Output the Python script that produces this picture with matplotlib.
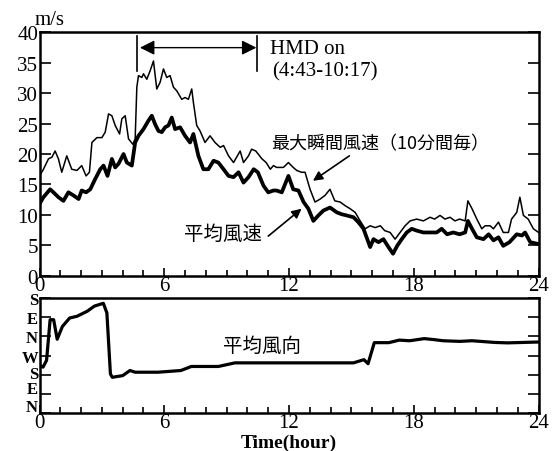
import numpy as np
import matplotlib.pyplot as plt
import matplotlib.transforms as mtransforms
from matplotlib.ticker import MultipleLocator

plt.rcParams['font.family'] = ['Liberation Serif', 'Noto Sans CJK JP']
plt.rcParams['font.size'] = 15

# ---- wind speed data ----
gust_t = [0, 0.19, 0.43, 0.6, 0.75, 0.91, 1.07, 1.31, 1.55, 1.8, 2.03, 2.24, 2.4, 2.52,
          2.76, 3.0, 3.16, 3.32, 3.48, 3.64, 3.85, 3.96, 4.12, 4.28, 4.49, 4.6, 4.68,
          4.76, 4.92, 5.0, 5.16, 5.32, 5.48, 5.64, 5.8, 5.96, 6.12, 6.28, 6.44, 6.6,
          6.84, 7.0, 7.16, 7.32, 7.4, 7.56, 7.72, 7.96, 8.2, 8.44, 8.69, 8.85, 9.09,
          9.33, 9.65, 9.81, 10.05, 10.2, 10.4, 10.7, 10.9, 11.1, 11.25, 11.4, 11.73,
          11.97, 12.2, 12.37, 12.6, 12.77, 13.01, 13.25, 13.5, 13.73, 13.97, 14.2,
          14.46, 14.7, 14.94, 15.18, 15.42, 15.66, 15.9, 16.14, 16.39, 16.6, 16.86,
          17.1, 17.34, 17.58, 17.82, 18.14, 18.46, 18.78, 19.0, 19.26, 19.5, 19.74,
          19.98, 20.2, 20.47, 20.6, 20.8, 21.03, 21.27, 21.43, 21.67, 21.83, 22.07,
          22.3, 22.55, 22.7, 22.95, 23.1, 23.27, 23.5, 23.75, 24.0]
gust_v = [16.4, 17.5, 19.2, 19.5, 20.5, 19.2, 17.0, 19.7, 17.5, 17.3, 18.1, 16.4, 17.0, 21.9,
          22.7, 22.7, 23.6, 26.6, 26.3, 24.7, 23.3, 25.8, 26.3, 22.5, 21.6, 22.5, 31.0,
          32.9, 32.6, 33.2, 32.3, 33.7, 35.3, 30.7, 31.8, 34.0, 32.6, 32.9, 31.0, 30.4,
          29.0, 29.3, 29.0, 30.7, 28.5, 24.7, 23.8, 21.9, 23.0, 21.9, 21.1, 21.4, 19.7,
          18.6, 20.5, 18.6, 19.7, 20.8, 20.5, 19.2, 18.6, 17.5, 18.1, 17.8, 17.8,
          18.6, 17.8, 17.3, 17.0, 17.0, 14.2, 12.1, 12.6, 13.2, 14.2, 12.3,
          12.1, 11.5, 11.0, 10.4, 9.0, 7.7, 8.2, 7.9, 8.2, 7.4, 7.1,
          6.0, 7.1, 8.2, 9.0, 9.3, 9.0, 9.6, 9.3, 9.9, 9.3, 9.6,
          9.0, 9.3, 9.0, 12.3, 11.0, 9.3, 7.7, 8.2, 8.2, 7.7, 8.8,
          7.1, 7.1, 9.3, 10.4, 12.9, 9.9, 9.3, 7.7, 7.1]

mean_t = [0, 0.19, 0.51, 0.67, 0.91, 1.15, 1.39, 1.63, 1.88, 2.03, 2.24, 2.44, 2.68, 2.92,
          3.08, 3.27, 3.48, 3.64, 3.8, 4.04, 4.2, 4.44, 4.6, 4.76, 5.0, 5.24, 5.4, 5.56,
          5.72, 5.88, 6.04, 6.2, 6.36, 6.52, 6.76, 7.0, 7.24, 7.4, 7.64, 7.88, 8.12,
          8.37, 8.6, 8.85, 9.09, 9.33, 9.57, 9.81, 10.05, 10.3, 10.5, 10.77, 11.0,
          11.25, 11.4, 11.65, 11.97, 12.2, 12.45, 12.7, 12.93, 13.17, 13.41, 13.65,
          13.97, 14.3, 14.53, 14.77, 15.1, 15.33, 15.58, 15.9, 16.06, 16.3, 16.54,
          16.78, 17.0, 17.2, 17.42, 17.66, 17.9, 18.14, 18.46, 18.78, 19.1, 19.34,
          19.6, 19.9, 20.2, 20.47, 20.6, 20.8, 21.03, 21.35, 21.6, 21.83, 22.07,
          22.3, 22.6, 22.95, 23.2, 23.35, 23.6, 24.0]
mean_v = [11.8, 12.9, 14.2, 13.7, 12.9, 12.3, 13.7, 13.2, 12.6, 14.0, 13.7, 14.2, 15.9, 17.5,
          18.1, 16.4, 19.2, 17.8, 18.4, 20.0, 18.6, 18.1, 21.9, 23.0, 24.1, 25.5, 26.3, 24.9,
          23.8, 23.6, 24.4, 24.7, 26.0, 24.1, 24.4, 23.0, 21.9, 23.3, 19.7, 17.5, 17.5,
          18.9, 18.6, 17.5, 16.4, 16.2, 17.0, 15.3, 16.2, 17.5, 17.0, 14.8, 13.7,
          14.0, 14.0, 13.7, 16.4, 14.2, 14.0, 12.1, 11.0, 9.0, 9.9, 10.7,
          11.2, 10.4, 10.1, 9.9, 9.6, 8.8, 7.7, 4.7, 6.0, 5.5, 6.0,
          4.7, 3.6, 4.9, 6.0, 7.1, 7.7, 7.4, 7.1, 7.1, 7.1, 7.7,
          6.8, 7.1, 6.8, 7.1, 9.0, 7.7, 6.3, 6.0, 6.8, 5.8, 6.3,
          4.9, 5.5, 6.8, 6.6, 7.1, 5.5, 5.2]

# ---- wind direction (deg, N=0 at bottom, cumulative up to S=540) ----
dir_t = [0, 0.17, 0.34, 0.51, 0.68, 0.85, 1.1, 1.45, 1.8, 2.3, 2.64, 3.07, 3.24, 3.41,
         3.5, 4.0, 4.35, 4.6, 5.7, 6.8, 7.3, 8.6, 9.4, 15.1, 15.6, 15.8, 16.1, 16.8,
         17.3, 17.8, 18.5, 19.0, 19.4, 20.2, 20.8, 21.9, 22.5, 24.0]
dir_v = [224, 216, 248, 439, 439, 347, 407, 447, 455, 479, 503, 516, 471, 184,
         168, 176, 200, 192, 192, 200, 219, 219, 236, 236, 251, 232, 331, 331,
         343, 340, 350, 345, 340, 337, 340, 332, 330, 334]
dir_ticks = [0, 90, 180, 270, 360, 450, 540]
dir_labels = ['N', 'E', 'S', 'W', 'N', 'E', 'S']

hmd_start, hmd_end = 4.68, 10.48

fig = plt.figure(figsize=(5.58, 4.52), dpi=100)
ax1 = fig.add_axes([0.0708, 0.388, 0.8944, 0.538])
ax2 = fig.add_axes([0.0708, 0.084, 0.8944, 0.254])

for ax in (ax1, ax2):
    for sp in ax.spines.values():
        sp.set_linewidth(1.8)
    ax.set_xlim(0, 24)
    ax.xaxis.set_major_locator(MultipleLocator(6))
    ax.xaxis.set_minor_locator(MultipleLocator(1))
    ax.tick_params(axis='x', which='major', direction='in', length=6, width=1.2, pad=0)
    ax.tick_params(axis='x', which='minor', direction='in', length=4, width=1.2)
    ax.tick_params(axis='y', which='major', direction='in', length=8, width=1.2,
                   right=True, pad=1)

# top panel: wind speed
ax1.plot(gust_t, gust_v, color='black', lw=1.1)
ax1.plot(mean_t, mean_v, color='black', lw=2.7)
ax1.set_ylim(0, 40)
ax1.yaxis.set_major_locator(MultipleLocator(5))
ax1.tick_params(labelsize=15)
ax1.text(-0.25, 40.6, 'm/s', fontsize=15, ha='left', va='bottom')

ax1.plot([hmd_start, hmd_start], [33.7, 39.4], color='black', lw=1.2)
ax1.plot([hmd_end, hmd_end], [33.7, 39.4], color='black', lw=1.2)
ax1.annotate('', xy=(hmd_start + 0.15, 37.5), xytext=(hmd_end - 0.05, 37.5),
             arrowprops=dict(arrowstyle='<|-|>', color='black', lw=1.0,
                             mutation_scale=22, shrinkA=0, shrinkB=0))
ax1.text(11.1, 37.4, 'HMD on', fontsize=15, ha='left', va='center')
ax1.text(11.2, 33.6, '(4:43-10:17)', fontsize=15, ha='left', va='center')

ax1.text(11.15, 21.7, '最大瞬間風速（10分間毎）', fontsize=13, ha='left', va='center',
         family=['Noto Sans CJK JP'])
ax1.annotate('', xy=(13.15, 15.6), xytext=(14.9, 19.7),
             arrowprops=dict(arrowstyle='-|>', color='black', lw=1.2,
                             mutation_scale=14, shrinkA=0, shrinkB=0))
ax1.text(6.95, 6.9, '平均風速', fontsize=14, ha='left', va='center',
         family=['Noto Sans CJK JP'])
ax1.annotate('', xy=(12.6, 11.0), xytext=(11.0, 6.5),
             arrowprops=dict(arrowstyle='-|>', color='black', lw=1.2,
                             mutation_scale=14, shrinkA=0, shrinkB=0))

# bottom panel: wind direction
ax2.plot(dir_t, dir_v, color='black', lw=2.3)
ax2.set_ylim(0, 540)
ax2.set_yticks(dir_ticks)
ax2.set_yticklabels(dir_labels, fontsize=12, fontweight='bold')
ax2.tick_params(axis='x', labelsize=15)
ax2.set_xlabel('Time(hour)', fontsize=14, fontweight='bold', labelpad=1)
ax2.text(10.7, 320, '平均風向', fontsize=14, ha='center', va='center',
         family=['Noto Sans CJK JP'])

# labels in the original are squeezed upward near the bottom corner
fig.canvas.draw()
lab_shift = [6, 5, 2, 0, 0, 0, 0]
for lab, dy in zip(ax2.get_yticklabels(), lab_shift):
    lab.set_transform(lab.get_transform() +
                      mtransforms.ScaledTranslation(0, dy / 72, fig.dpi_scale_trans))
zero_lab = ax1.get_yticklabels()[0]
zero_lab.set_transform(zero_lab.get_transform() +
                       mtransforms.ScaledTranslation(-1 / 72, 4 / 72, fig.dpi_scale_trans))
zero_x = ax1.get_xticklabels()[0]
zero_x.set_transform(zero_x.get_transform() +
                     mtransforms.ScaledTranslation(3 / 72, 0, fig.dpi_scale_trans))

fig.savefig('out.png', dpi=100)
